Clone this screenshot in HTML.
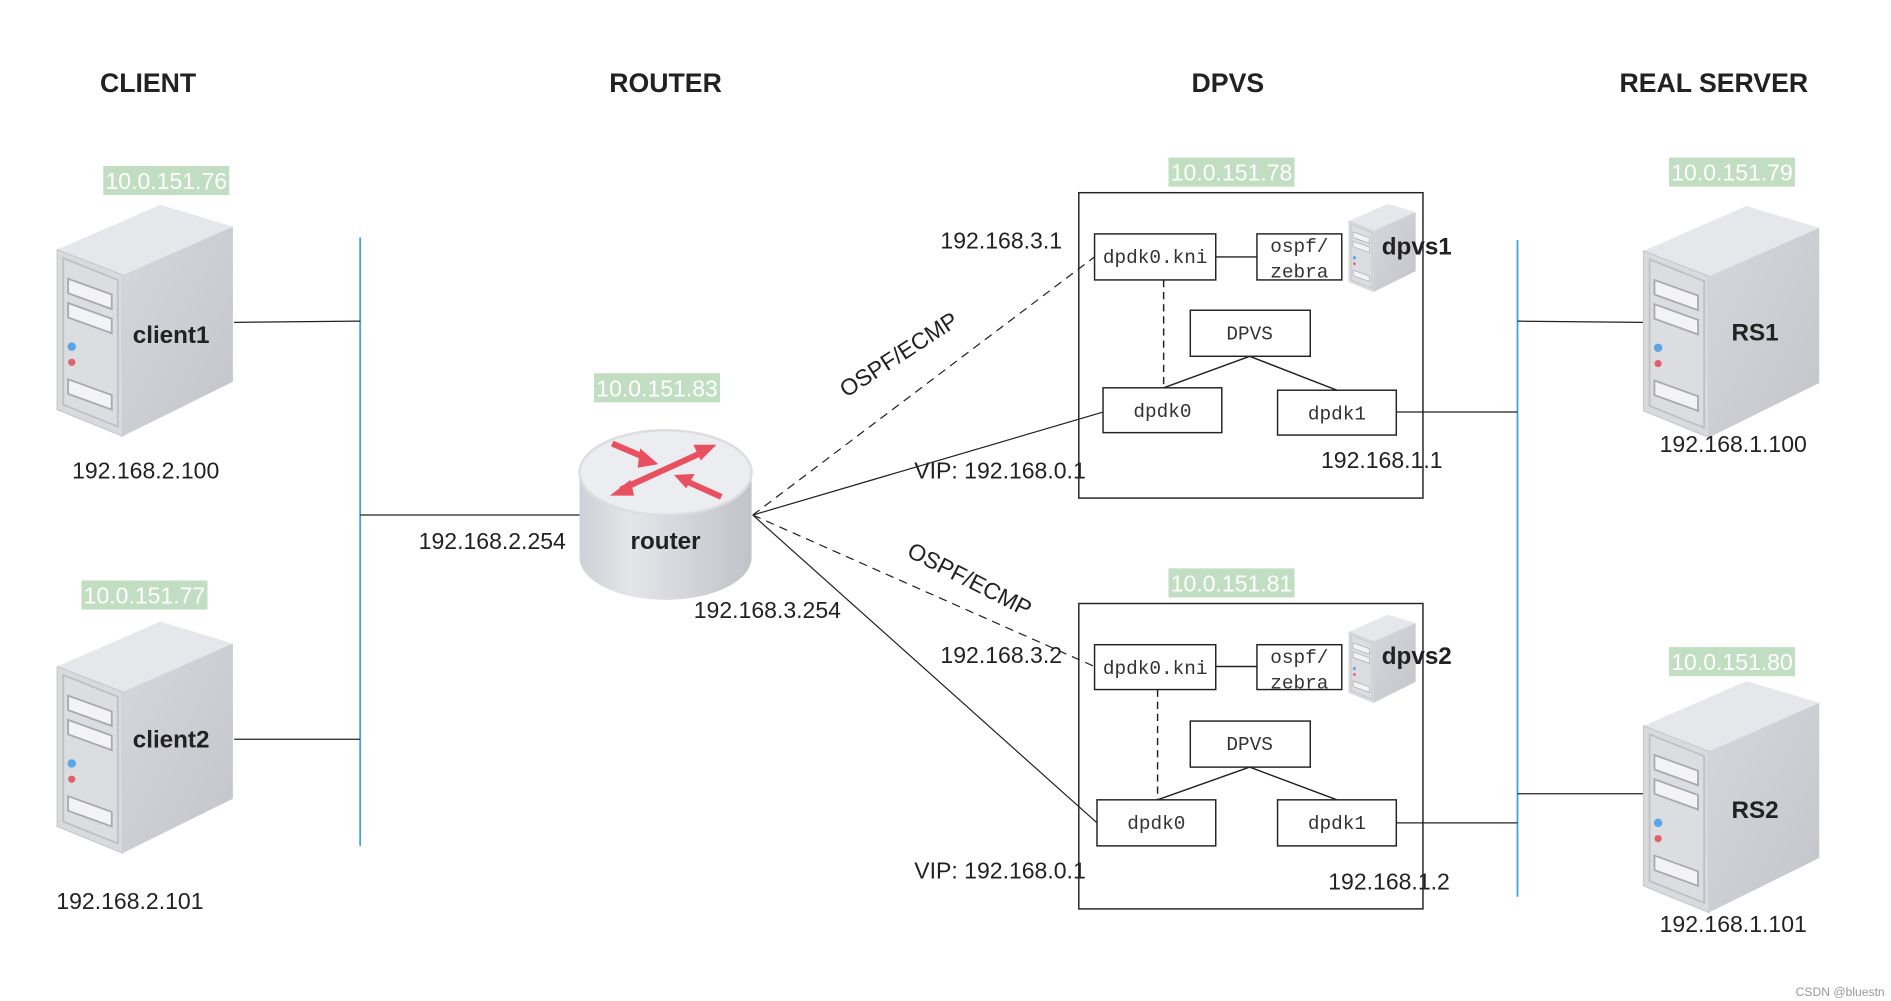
<!DOCTYPE html>
<html><head><meta charset="utf-8"><style>
html,body{margin:0;padding:0;background:#fff;}
svg{display:block;}
.h{font-family:"Liberation Sans",sans-serif;font-weight:bold;font-size:22px;fill:#222;}
.ip{font-family:"Liberation Sans",sans-serif;font-size:19px;fill:#222;}
.g{font-family:"Liberation Sans",sans-serif;font-size:19px;fill:#fff;}
.m{font-family:"Liberation Mono","DejaVu Sans Mono",monospace;font-size:16px;fill:#333;}
.b{font-family:"Liberation Sans",sans-serif;font-weight:bold;font-size:20px;fill:#222;}
</style></head><body>
<svg width="1891" height="1001" viewBox="0 0 1560 826" xmlns="http://www.w3.org/2000/svg">
<defs>
<linearGradient id="rf" x1="0" y1="0" x2="1" y2="1"><stop offset="0" stop-color="#d6d7dc"/><stop offset="1" stop-color="#c4c5cb"/></linearGradient>
<linearGradient id="cyl" x1="0" y1="0" x2="1" y2="0"><stop offset="0" stop-color="#d0d1d6"/><stop offset="0.3" stop-color="#e4e5e9"/><stop offset="1" stop-color="#c2c3c9"/></linearGradient>
<g id="srv">
<polygon points="47,206 132,169 192,187 101,227" fill="#e6e7ea"/>
<polygon points="47,206 101,227 101,360 47,338" fill="#d9dade" stroke="#c8c9ce" stroke-width="1"/>
<polygon points="52,213 97,231 97,352 52,334" fill="#dcdde1" stroke="#bfc0c5" stroke-width="1.5"/>
<polygon points="101,227 192,187 192,315 101,360" fill="url(#rf)"/>
<polygon points="56,230 92,243 92,255 56,242" fill="#f3f3f5" stroke="#a9aab0" stroke-width="1.5"/>
<polygon points="56,250 92,263 92,275 56,262" fill="#f3f3f5" stroke="#a9aab0" stroke-width="1.5"/>
<polygon points="56,313 92,326 92,338 56,325" fill="#f3f3f5" stroke="#a9aab0" stroke-width="1.5"/>
<circle cx="59" cy="286" r="3.5" fill="#5aa6e8"/>
<circle cx="59" cy="299" r="3" fill="#e06070"/>
</g>
</defs>

<text class="h" x="122" y="76" text-anchor="middle">CLIENT</text>
<text class="h" x="549" y="76" text-anchor="middle">ROUTER</text>
<text class="h" x="1013" y="76" text-anchor="middle">DPVS</text>
<text class="h" x="1414" y="76" text-anchor="middle">REAL SERVER</text>

<line x1="297" y1="196" x2="297" y2="698" stroke="#3fa7d6" stroke-width="1.5"/>
<line x1="1252" y1="198" x2="1252" y2="740" stroke="#3fa7d6" stroke-width="1.5"/>

<g stroke="#222" stroke-width="1" fill="none">
<line x1="193" y1="266" x2="297" y2="265"/>
<line x1="193" y1="610" x2="297" y2="610"/>
<line x1="297" y1="425" x2="478" y2="425"/>
<line x1="621" y1="425" x2="910" y2="340"/>
<line x1="621" y1="425" x2="905" y2="679"/>
<line x1="621" y1="425" x2="903" y2="212" stroke-dasharray="7,5"/>
<line x1="621" y1="425" x2="903" y2="550" stroke-dasharray="7,5"/>
<line x1="1152" y1="340" x2="1252" y2="340"/>
<line x1="1152" y1="679" x2="1252" y2="679"/>
<line x1="1252" y1="265" x2="1356" y2="266"/>
<line x1="1252" y1="655" x2="1356" y2="655"/>
</g>

<use href="#srv"/>
<use href="#srv" transform="translate(0,344)"/>
<use href="#srv" transform="translate(1309,1)"/>
<use href="#srv" transform="translate(1309,393)"/>
<text class="b" x="141" y="283" text-anchor="middle">client1</text>
<text class="b" x="141" y="617" text-anchor="middle">client2</text>
<text class="b" x="1448" y="281" text-anchor="middle">RS1</text>
<text class="b" x="1448" y="675" text-anchor="middle">RS2</text>

<path d="M478,390 L478,460 A71,35 0 0 0 620,460 L620,390 Z" fill="url(#cyl)"/>
<ellipse cx="549" cy="390" rx="71" ry="35" fill="#ecedf0" stroke="#dcdde1" stroke-width="2"/>
<g fill="#e8505f" stroke="#e8505f">
<line x1="505" y1="366" x2="533" y2="378" stroke-width="5"/>
<polygon points="528,370 543,383 526,386" stroke="none"/>
<line x1="512" y1="404" x2="580" y2="373" stroke-width="5"/>
<polygon points="503,409 520,396 523,409" stroke="none"/>
<polygon points="591,367 572,367 578,380" stroke="none"/>
<line x1="595" y1="410" x2="566" y2="397" stroke-width="5"/>
<polygon points="556,392 573,391 566,403" stroke="none"/>
</g>
<text class="b" x="549" y="453" text-anchor="middle">router</text>

<g fill="#c2dec2">
<rect x="85" y="137" width="104" height="24"/>
<rect x="67" y="479" width="104" height="24"/>
<rect x="490" y="308" width="104" height="24"/>
<rect x="964" y="130" width="104" height="24"/>
<rect x="964" y="469" width="104" height="24"/>
<rect x="1377" y="130" width="104" height="24"/>
<rect x="1377" y="534" width="104" height="24"/>
</g>
<text class="g" x="137" y="156" text-anchor="middle">10.0.151.76</text>
<text class="g" x="119" y="498" text-anchor="middle">10.0.151.77</text>
<text class="g" x="542" y="327" text-anchor="middle">10.0.151.83</text>
<text class="g" x="1016" y="149" text-anchor="middle">10.0.151.78</text>
<text class="g" x="1016" y="488" text-anchor="middle">10.0.151.81</text>
<text class="g" x="1429" y="149" text-anchor="middle">10.0.151.79</text>
<text class="g" x="1429" y="553" text-anchor="middle">10.0.151.80</text>

<g fill="none" stroke="#222" stroke-width="1.2">
<rect x="890" y="159" width="284" height="252"/>
<rect x="903" y="193" width="100" height="38"/>
<rect x="1037" y="193" width="70" height="38"/>
<rect x="982" y="256" width="99" height="38"/>
<rect x="910" y="320" width="98" height="37"/>
<rect x="1054" y="322" width="98" height="37"/>
<line x1="1003" y1="212" x2="1037" y2="212"/>
<line x1="960" y1="231" x2="960" y2="320" stroke-dasharray="6,4"/>
<line x1="1031" y1="294" x2="960" y2="320"/>
<line x1="1031" y1="294" x2="1103" y2="322"/>

<rect x="890" y="498" width="284" height="252"/>
<rect x="903" y="532" width="100" height="37"/>
<rect x="1037" y="532" width="70" height="37"/>
<rect x="982" y="595" width="99" height="38"/>
<rect x="905" y="660" width="98" height="38"/>
<rect x="1054" y="660" width="98" height="38"/>
<line x1="1003" y1="550" x2="1037" y2="550"/>
<line x1="955" y1="569" x2="955" y2="660" stroke-dasharray="6,4"/>
<line x1="1031" y1="633" x2="955" y2="660"/>
<line x1="1031" y1="633" x2="1103" y2="660"/>
</g>
<use href="#srv" transform="translate(1095,104) scale(0.38)"/>
<use href="#srv" transform="translate(1095,443) scale(0.38)"/>
<text class="b" x="1140" y="210">dpvs1</text>
<text class="b" x="1140" y="548">dpvs2</text>

<text class="m" x="953" y="217" text-anchor="middle">dpdk0.kni</text>
<text class="m" x="1072" y="208" text-anchor="middle">ospf/</text>
<text class="m" x="1072" y="229" text-anchor="middle">zebra</text>
<text class="m" x="1031" y="280" text-anchor="middle">DPVS</text>
<text class="m" x="959" y="344" text-anchor="middle">dpdk0</text>
<text class="m" x="1103" y="346" text-anchor="middle">dpdk1</text>

<text class="m" x="953" y="556" text-anchor="middle">dpdk0.kni</text>
<text class="m" x="1072" y="547" text-anchor="middle">ospf/</text>
<text class="m" x="1072" y="568" text-anchor="middle">zebra</text>
<text class="m" x="1031" y="619" text-anchor="middle">DPVS</text>
<text class="m" x="954" y="684" text-anchor="middle">dpdk0</text>
<text class="m" x="1103" y="684" text-anchor="middle">dpdk1</text>

<text class="ip" x="120" y="395" text-anchor="middle">192.168.2.100</text>
<text class="ip" x="107" y="750" text-anchor="middle">192.168.2.101</text>
<text class="ip" x="406" y="453" text-anchor="middle">192.168.2.254</text>
<text class="ip" x="633" y="510" text-anchor="middle">192.168.3.254</text>
<text class="ip" x="826" y="205" text-anchor="middle">192.168.3.1</text>
<text class="ip" x="826" y="547" text-anchor="middle">192.168.3.2</text>
<text class="ip" x="825" y="395" text-anchor="middle">VIP: 192.168.0.1</text>
<text class="ip" x="825" y="725" text-anchor="middle">VIP: 192.168.0.1</text>
<text class="ip" x="1140" y="386" text-anchor="middle">192.168.1.1</text>
<text class="ip" x="1146" y="734" text-anchor="middle">192.168.1.2</text>
<text class="ip" x="1430" y="373" text-anchor="middle">192.168.1.100</text>
<text class="ip" x="1430" y="769" text-anchor="middle">192.168.1.101</text>
<text class="ip" x="0" y="0" transform="translate(745,298) rotate(-33)" text-anchor="middle">OSPF/ECMP</text>
<text class="ip" x="0" y="0" transform="translate(797,484) rotate(27)" text-anchor="middle">OSPF/ECMP</text>
<text x="1555" y="822" text-anchor="end" font-family="Liberation Sans,sans-serif" font-size="10" fill="#999">CSDN @bluestn</text>
</svg>
</body></html>
